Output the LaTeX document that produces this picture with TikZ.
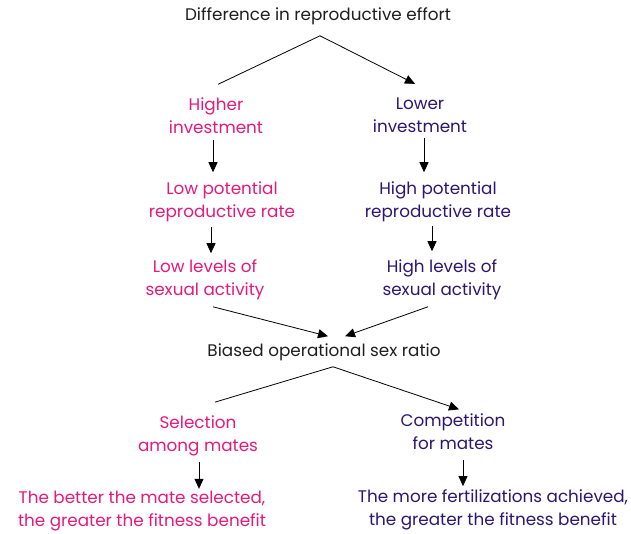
\documentclass[tikz,border=0pt]{standalone}
\usepackage{fontspec}
\setmainfont{Poppins}
\usetikzlibrary{arrows.meta}
\definecolor{pinkc}{RGB}{228,26,122}
\definecolor{bluec}{RGB}{44,22,112}
\definecolor{txt}{RGB}{30,30,30}
\tikzset{
  lbl/.style={align=center, inner sep=1pt, font=\fontsize{16.8}{23}\selectfont},
  pk/.style={lbl, text=pinkc},
  bl/.style={lbl, text=bluec},
  bk/.style={lbl, text=txt},
  ln/.style={draw=black, line width=0.8pt},
  arr/.style={ln, -{Triangle[length=10pt,width=9pt]}}
}
\begin{document}
\begin{tikzpicture}[x=1pt,y=-1pt]
\useasboundingbox (0,0) rectangle (631,533);
\node[bk] (title) at (318,16) {Difference in reproductive effort};
\node[pk] (hi) at (216,115.5) {Higher\\investment};
\node[bl] (lo) at (420,115.5) {Lower\\investment};
\node[pk] (lpr) at (222,201.5) {Low potential\\reproductive rate};
\node[bl] (hpr) at (438,201.5) {High potential\\reproductive rate};
\node[pk] (llv) at (205,279.5) {Low levels of\\sexual activity};
\node[bl] (hlv) at (442,279.5) {High levels of\\sexual activity};
\node[bk] (bias) at (324,352) {Biased operational sex ratio};
\node[pk] (sel) at (198,435.5) {Selection\\among mates};
\node[bl] (comp) at (453,431.5) {Competition\\for mates};
\node[pk] (bet) at (142,511) {The better the mate selected,\\the greater the fitness benefit};
\node[bl] (more) at (493,509.5) {The more fertilizations achieved,\\the greater the fitness benefit};

\coordinate (apex1) at ([xshift=2pt,yshift=-10pt]title.south);
\coordinate (apex2) at ([xshift=9pt,yshift=-5pt]bias.south);

\draw[ln] (apex1) -- ([xshift=2pt,yshift=12pt]hi.north);
\draw[arr] (apex1) -- ([xshift=-5pt,yshift=13pt]lo.north);
\draw[arr] ([xshift=-3pt,yshift=-5pt]hi.south) -- ([xshift=-3pt,yshift=8pt]hi.south |- lpr.north);
\draw[arr] ([xshift=4pt,yshift=-4pt]lo.south) -- ([xshift=4pt,yshift=8pt]lo.south |- hpr.north);
\draw[arr] ([xshift=-11pt,yshift=-4pt]lpr.south) -- ([xshift=-11pt,yshift=5pt]lpr.south |- llv.north);
\draw[arr] ([xshift=-6pt,yshift=-3pt]hpr.south) -- ([xshift=-6pt,yshift=7pt]hpr.south |- hlv.north);
\draw[arr] ([xshift=8pt,yshift=-6pt]llv.south) -- ([xshift=4pt,yshift=6pt]bias.north);
\draw[arr] ([xshift=-14pt,yshift=-6pt]hlv.south) -- ([xshift=21pt,yshift=6pt]bias.north);
\draw[ln] (apex2) -- ([xshift=17pt,yshift=12pt]sel.north);
\draw[arr] (apex2) -- ([xshift=6pt,yshift=3pt]comp.north);
\draw[arr] ([xshift=1pt,yshift=-5pt]sel.south) -- ([xshift=1pt,yshift=1pt]sel.south |- bet.north);
\draw[arr] ([xshift=10pt,yshift=-9pt]comp.south) -- ([xshift=10pt,yshift=2pt]comp.south |- more.north);
\end{tikzpicture}
\end{document}
